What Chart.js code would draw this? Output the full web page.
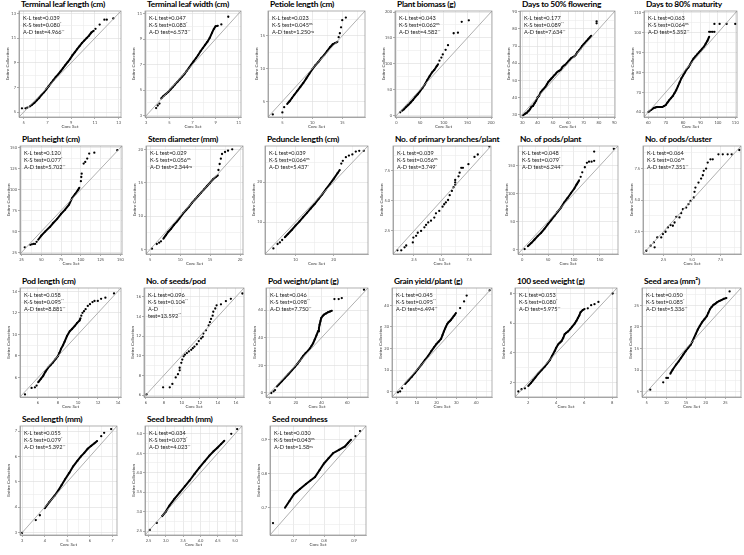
<!DOCTYPE html>
<html>
<head>
<meta charset="utf-8">
<script src="https://cdn.jsdelivr.net/npm/chart.js@4.4.1/dist/chart.umd.min.js"></script>
<style>
  body { margin:0; background:#fff; width:744px; height:555px; overflow:hidden; position:relative; font-family:Lato, "Open Sans", sans-serif; }
  .ttl { position:absolute; font-weight:700; font-size:8.4px; line-height:9px; letter-spacing:-0.25px; white-space:nowrap; color:#000; }
  .stats { position:absolute; font-size:5.6px; line-height:6.7px; color:#1a1a1a; white-space:nowrap; z-index:2; }
  .stats sup { font-size:3.7px; vertical-align:0; position:relative; top:-1.7px; }
  canvas { position:absolute; }
</style>
</head>
<body>
<script>
// panel titles and test statistics
const titles = ["Terminal leaf length (cm)","Terminal leaf width (cm)","Petiole length (cm)","Plant biomass (g)","Days to 50% flowering","Days to 80% maturity",
  "Plant height (cm)","Stem diameter (mm)","Peduncle length (cm)","No. of primary branches/plant","No. of pods/plant","No. of pods/cluster",
  "Pod length (cm)","No. of seeds/pod","Pod weight/plant (g)","Grain yield/plant (g)","100 seed weight (g)","Seed area (mm²)",
  "Seed length (mm)","Seed breadth (mm)","Seed roundness"];
const klTest = ["0.039","0.047","0.023","0.043","0.177","0.063","0.120","0.029","0.039","0.039","0.048","0.064","0.058","0.096","0.046","0.045","0.053","0.050","0.055","0.034","0.030"];
const ksTest = ["0.080","0.083","0.045","0.062","0.089","0.064","0.077","0.056","0.064","0.056","0.079","0.06","0.095","0.104","0.098","0.095","0.080","0.085","0.079","0.073","0.043"];
const ksSig  = ["*","*","ns","ns","**","ns","*","ns","ns","ns","*","ns","**","**","**","**","*","*","*","*","ns"];
const adTest = ["4.966","6.573","1.250","4.582","7.634","5.352","5.702","2.344","5.437","3.749","6.244","7.351","8.881","13.592","7.750","6.494","5.975","5.336","5.392","4.023","1.58"];
const adSig  = ["**","**","ns","**","**","**","**","ns","*","*","**","**","**","**","**","**","**","**","**","**","ns"];

// axis limits (same for both axes) and labelled ticks
const axisLow  = [4.6, 2.9, 2.6, -3, 28.5, 57.5, 23, 4.3, 2, 0.6, -8, 0.7, 4.2, 5.8, -3, -2.5, 1.05, 3.8, 2.9, 2.4, 0.62];
const axisHigh = [13.2, 11.2, 18.8, 202, 90.5, 111, 152, 20.5, 29, 9.5, 185, 9.3, 14.3, 16.9, 76, 48, 8.35, 29, 7.2, 5.2, 0.94];
const tickSets = [
  [5,7,9,11,13],[3,5,7,9,11],[5,10,15],[0,50,100,150,200],[30,40,50,60,70,80,90],[60,70,80,90,100,110],
  [25,50,75,100,125,150],[5,10,15,20],[10,20],[2.5,5,7.5],[0,50,100,150],[2.5,5,7.5],
  [6,8,10,12,14],[6,8,10,12,14,16],[0,20,40,60],[0,10,20,30,40],[2,4,6,8],[5,10,15,20,25],
  [3,4,5,6,7],[2.5,3,3.5,4,4.5,5],[0.7,0.8,0.9]
];

// quantile pairs [core set, entire collection]: dense runs and single points
const tllLine = [[5.5,5.45],[5.7,5.6],[5.9,5.75],[6.1,5.95],[6.3,6.15],[6.5,6.4],[6.7,6.6],[6.9,6.85],[7.1,7.1],[7.3,7.35],[7.5,7.6],[7.7,7.85],[7.9,8.05],[8.1,8.3],[8.3,8.55],[8.5,8.8],[8.7,9.05],[8.9,9.3],[9.1,9.6],[9.3,9.85],[9.5,10.1],[9.7,10.35],[9.9,10.6],[10.1,10.8],[10.3,11.0],[10.5,11.2],[10.7,11.45],[10.9,11.6]];
const tllDots = [[4.85,5.3],[5.15,5.3],[5.3,5.35],[11.05,11.75],[11.4,12.1],[11.8,12.5],[12.0,12.5],[12.55,12.6]];
const tlwLine = [[4.3,4.35],[4.5,4.55],[4.7,4.7],[4.9,4.85],[5.1,5.05],[5.3,5.25],[5.5,5.45],[5.7,5.65],[5.9,5.85],[6.1,6.05],[6.3,6.25],[6.5,6.5],[6.7,6.75],[6.9,7.0],[7.1,7.25],[7.3,7.5],[7.5,7.75],[7.7,8.05],[7.9,8.3],[8.1,8.55],[8.3,8.8],[8.5,9.1],[8.7,9.5],[8.85,9.8],[9.0,10.0],[9.2,10.05]];
const tlwDots = [[3.86,3.6],[4.0,3.8],[4.15,3.95],[9.5,10.15],[10.1,10.75]];
const petLine = [[5.8,4.6],[6.2,5.0],[6.6,5.5],[7.0,6.0],[7.5,6.6],[8.0,7.2],[8.5,7.8],[9.0,8.5],[9.5,9.2],[10.0,9.9],[10.5,10.5],[11.0,11.0],[11.5,11.6],[12.0,12.1],[12.5,12.7],[13.0,13.3],[13.4,13.7],[13.8,13.9],[14.2,14.1]];
const petDots = [[3.4,3.0],[5.0,3.3],[5.3,4.1],[14.4,14.8],[14.6,15.4],[14.8,16.3],[15.0,17.4],[15.6,17.8]];
const pbmLine = [[12,9],[16,12],[20,16],[25,20],[30,25],[35,30],[40,36],[45,41],[50,47],[55,53],[60,60],[65,68],[70,76],[75,83],[80,88],[85,95],[88,99]];
const pbmDots = [[8,6],[91,106],[95,112],[98,118],[104,127],[109,136],[121,159],[130,160],[138,181],[153,184]];
const d50Line = [[30.5,29.5],[32,30.5],[33,31],[34,32],[35,33],[36,34.5],[37,35],[38,36.5],[39,38],[40,40],[41,41],[42,43],[43,44],[44,45],[45,46],[46,47.5],[47,49],[48,50],[49,51],[50,52],[51,53],[52,54],[53,55],[54,55.5],[55,56],[56,57.5],[57,58.5],[58,59],[59,60],[60,61],[61,62],[62,63],[63,63.5],[64,64],[65,65],[66,66.5],[67,67.5],[68,68.5],[69,70],[70,71],[71,72],[72,73],[73,74],[74,75],[75,76]];
const d50Dots = [[78.5,83.3],[78.5,84.4]];
const d80Line = [[60,60],[61.5,61],[63,62],[64,62.3],[65,62.5],[66.5,62.5],[68,62.5],[69,63],[70,63.5],[71,64.8],[72,66],[73,67],[74,68],[75,69.5],[76,71],[77,73],[78,75],[79,77],[80,78.5],[81,80],[82,81.5],[83,82.5],[84,84],[85,85.5],[86,87],[87,88],[88,89],[89,90],[90,91],[91,92],[92,93],[93,94.5],[94,96],[95,98]];
const d80Dots = [[95,100.5],[96,100.5],[97,100.5],[98,100.5],[98,104.5],[101,104.5],[105,104.5],[110,104.5]];
const phtLine = [[46,40],[50,45],[55,50],[61,55.5],[65,60],[70,65],[75,71],[80,76],[85,82],[89,90],[93,95],[96,99],[98,102]];
const phtDots = [[29,31],[36,34],[38,34.5],[40,35],[42,35],[44,37.5],[100,110],[100.5,115],[101,119],[103.5,131],[105.5,133],[108,137],[110.5,143],[117,144],[146,147]];
const stdLine = [[7.2,6.6],[7.6,7.1],[8,7.6],[8.5,8.1],[9,8.7],[9.5,9.2],[10,9.8],[10.5,10.4],[11,10.9],[11.5,11.4],[12,12],[12.5,12.5],[13,13],[13.5,13.5],[14,14],[14.5,14.5],[15,15],[15.5,15.5],[16,15.9],[16.3,16.1]];
const stdDots = [[5.3,5.1],[6.1,5.8],[6.5,6.0],[6.8,6.2],[16.4,16.9],[16.6,17.8],[16.8,18.6],[17.0,19.3],[17.5,19.6],[18.0,19.8],[18.7,20.0]];
const pedLine = [[7.2,6.2],[8,7],[9,8],[10,9.1],[11,10.1],[12,11.2],[13,12.3],[14,13.4],[15,14.5],[16,15.7],[17,16.9],[18,18.2],[19,19.5],[20,20.8],[21,22.2],[21.6,23]];
const pedDots = [[4.2,3.4],[5.3,4.5],[5.9,4.9],[6.5,5.5],[22,24.6],[22.4,25.3],[23.2,26.2],[24,26.6],[24.9,26.9],[25.8,27.6],[26.7,27.8],[27.9,27.8]];
const brnLine = [];
const brnDots = [[1.0,0.9],[1.35,0.9],[1.65,1.15],[1.8,1.3],[2.4,1.55],[2.45,1.95],[2.7,2.1],[2.85,2.35],[3.15,2.5],[3.45,2.8],[3.6,3.0],[3.8,3.2],[4.05,3.35],[4.35,3.6],[4.5,3.95],[4.8,4.15],[5.1,4.5],[5.25,4.7],[5.4,4.85],[5.6,5.05],[5.75,5.45],[5.95,5.8],[6.1,6.1],[6.25,6.3],[6.25,6.5],[6.25,6.7],[6.55,7.0],[6.65,7.3],[6.8,7.7],[6.95,7.7],[7.45,8.0],[8.0,8.6],[8.3,8.8],[9.35,9.45]];
const ppLine = [[11,6],[18,12],[24,18],[30,24],[36.7,30],[43,37],[49.5,45],[56,52.5],[62.3,60],[68,67],[75,75],[81,84],[88,92.6],[94,100.5],[100.7,109],[105,116],[110,123.6]];
const ppDots = [[4.8,0.8],[113,130],[116,138],[121,147],[125,155],[129,157],[134,157],[139,158.5],[139,175],[177,180]];
const pcLine = [];
const pcDots = [[0.99,0.96],[1.37,1.36],[1.66,1.63],[1.72,1.23],[1.95,2.02],[2.3,2.02],[2.45,2.29],[2.68,2.47],[2.89,2.82],[3.12,3.0],[3.32,2.95],[3.47,3.21],[3.62,3.66],[3.9,3.61],[4.05,3.95],[4.2,4.27],[4.49,4.4],[4.69,4.67],[4.87,4.93],[5.16,5.2],[5.22,5.65],[5.3,5.99],[5.57,6.39],[5.8,6.71],[5.95,6.97],[6.03,7.32],[6.24,7.5],[6.38,7.98],[6.62,8.24],[6.82,8.24],[7.32,8.64],[7.7,8.64],[8.13,8.64],[8.48,8.64],[9.15,8.98]];
const plnLine = [[6.02,5.56],[6.3,5.9],[6.52,6.16],[6.75,6.55],[7.0,6.9],[7.25,7.15],[7.5,7.4],[7.75,7.7],[7.98,7.97],[8.15,8.3],[8.3,8.66],[8.5,9.0],[8.66,9.33],[8.9,9.85],[9.17,10.29],[9.4,10.5],[9.66,10.77],[9.9,11.05],[10.16,11.3],[10.25,11.5]];
const plnDots = [[4.7,4.44],[5.36,5.04],[5.69,5.1],[5.86,5.26],[10.33,11.74],[10.45,12.0],[10.6,12.15],[10.76,12.34],[10.98,12.64],[11.2,12.8],[11.45,13.0],[11.65,13.1],[11.98,13.1],[12.31,13.3],[12.74,13.4],[13.6,13.8]];
const spdLine = [];
const spdDots = [[6.09,6.07],[7.92,6.79],[8.66,6.79],[8.95,7.13],[9.32,7.79],[9.57,8.12],[9.76,8.52],[9.76,8.78],[9.94,9.28],[10.05,9.61],[10.2,9.94],[10.34,10.11],[10.56,10.27],[10.78,10.44],[11.04,10.6],[11.22,10.77],[11.4,10.94],[11.66,11.17],[11.88,11.5],[12.14,11.76],[12.32,11.93],[12.39,12.26],[12.68,12.59],[12.98,13.09],[13.12,13.42],[13.24,13.75],[13.42,14.08],[13.49,14.48],[13.71,14.81],[13.86,15.14],[14.34,15.24],[14.89,15.57],[15.44,15.8],[16.72,16.34]];
const pwtLine = [[5.4,4.6],[7,6.2],[9.2,8.4],[11.7,10.9],[14.3,13.5],[17,16.3],[19.4,18.9],[21.3,21],[23.2,23.3],[24.5,25],[25.8,26.8],[27.7,28.8],[29.6,30.6],[31,32.2],[32.2,33.9],[33.5,36],[34.7,38.6],[36,41.5],[37.3,44.6],[38,47],[38.5,49.4],[39.2,52],[39.8,54.3],[41,55.8],[41.9,56.7],[43.5,57.6],[44.9,58.4],[46.5,59],[48,59.6]];
const pwtDots = [[1.1,-0.1],[2.9,1.1],[4,2],[50,68],[53.3,68],[55.7,68.7],[72.9,74.8]];
const gyLine = [[4.1,3.5],[5.8,5.2],[7.4,6.8],[9,8.6],[10.7,10.5],[12.4,12.5],[14.1,14.6],[15.8,16.6],[17.4,18.8],[18.7,20.5],[19.9,22],[21.1,23.2],[22.3,24.5],[23,26.2],[23.7,27.9],[24.3,29.2],[24.8,30.2],[25.4,31.3],[26,32.1],[26.6,32.6],[27.3,33.3],[28,34.1],[28.6,34.9],[29.2,35.6],[29.8,36.4]];
const gyDots = [[0.5,-0.3],[1.6,0.1],[2.6,1.5],[31.9,38.7],[33.9,41.8],[35.2,44.5],[46.8,46.9]];
const swLine = [[2.0,1.79],[2.2,2.0],[2.35,2.18],[2.5,2.35],[2.71,2.61],[2.95,2.85],[3.18,3.09],[3.36,3.3],[3.54,3.52],[3.7,3.8],[3.89,4.13],[4.0,4.35],[4.13,4.56],[4.25,4.68],[4.37,4.78],[4.5,5.0],[4.6,5.25],[4.72,5.35],[4.84,5.43],[5.0,5.6],[5.13,5.75],[5.32,5.97],[5.45,6.15],[5.55,6.34],[5.65,6.5],[5.74,6.73],[5.9,6.88],[6.03,6.94]];
const swDots = [[1.29,1.42],[1.52,1.57],[1.76,1.63],[6.26,6.99],[6.5,7.2],[6.74,7.27],[7.02,7.42],[8.04,7.98]];
const saLine = [[11,9.2],[11.6,10.1],[12.5,11.3],[13.1,12.0],[13.7,12.8],[14.3,13.6],[14.9,14.4],[15.5,15.1],[16.2,15.9],[16.6,16.6],[17,17.4],[17.5,18.4],[18,19.4],[18.5,20.2],[19.1,21.1],[19.7,21.8],[20.3,22.5],[20.7,23.3],[21.1,24.1],[21.5,24.6],[22,25.1],[22.5,25.4],[22.9,25.7],[23.5,26],[24,26.2],[24.6,26.5],[25.3,26.7]];
const saDots = [[5.9,5.5],[9.2,7.2],[10,8.2],[10.4,8.2],[26.1,28.2]];
const slLine = [[4.0,3.96],[4.2,4.2],[4.44,4.46],[4.6,4.66],[4.74,4.86],[4.9,5.1],[5.09,5.36],[5.25,5.6],[5.45,5.83],[5.6,6.0],[5.75,6.14],[5.9,6.3],[6.06,6.42],[6.2,6.52],[6.32,6.61]];
const slDots = [[2.99,2.98],[3.6,3.49],[3.78,3.68],[6.5,6.8],[6.63,6.93],[6.94,7.08]];
const sbLine = [[2.89,2.88],[3.0,3.0],[3.11,3.16],[3.25,3.33],[3.4,3.49],[3.55,3.65],[3.69,3.8],[3.83,3.97],[3.97,4.13],[4.12,4.29],[4.26,4.44],[4.38,4.55],[4.49,4.64],[4.6,4.74],[4.69,4.82]];
const sbDots = [[2.54,2.53],[2.74,2.71],[4.89,5.0],[5.06,5.12]];
const srLine = [[0.67,0.70],[0.685,0.72],[0.70,0.74],[0.72,0.755],[0.74,0.77],[0.755,0.78],[0.77,0.79],[0.785,0.81],[0.80,0.83],[0.815,0.845],[0.83,0.86],[0.85,0.87],[0.87,0.88],[0.88,0.89],[0.89,0.90]];
const srDots = [[0.63,0.655],[0.905,0.91],[0.92,0.925]];

const lines = [tllLine,tlwLine,petLine,pbmLine,d50Line,d80Line,phtLine,stdLine,pedLine,brnLine,ppLine,pcLine,plnLine,spdLine,pwtLine,gyLine,swLine,saLine,slLine,sbLine,srLine];
const dots  = [tllDots,tlwDots,petDots,pbmDots,d50Dots,d80Dots,phtDots,stdDots,pedDots,brnDots,ppDots,pcDots,plnDots,spdDots,pwtDots,gyDots,swDots,saDots,slDots,sbDots,srDots];

// plot rectangles on the page: left, top, right, bottom
const rects = [
  [19,10,122,117],[145,10,242,117],[268,10,366,117],[395,10,493,117],[520,10,616,117],[644,10,738,117],
  [20,145,123,254],[146,145,244,254],[265,145,369,254],[393,145,492,254],[518,145,619,254],[643,145,742,254],
  [20,287,122,397],[144,287,245,397],[266,287,369,397],[392,287,493,397],[515,287,618,397],[642,287,742,397],
  [20,425,118,535],[145,425,243,535],[270,425,367,535]
];

const Y_W = 14, X_H = 12, PAD_T = 3, PAD_R = 3;

const frame = {
  id: "frame",
  afterDraw(c){
    const a = c.chartArea, g = c.ctx;
    g.save();
    g.strokeStyle = "#8f8f8f";
    g.lineWidth = 0.7;
    g.strokeRect(a.left, a.top, a.right - a.left, a.bottom - a.top);
    g.restore();
  }
};

function gridValues(lo, hi, majors){
  const out = [];
  const step = majors.length > 1 ? majors[1] - majors[0] : (hi - lo);
  const first = majors[0] - step / 2, last = majors[majors.length - 1] + step / 2;
  if (first >= lo) out.push(first);
  majors.forEach((m, i) => {
    out.push(m);
    if (i < majors.length - 1) out.push((m + majors[i + 1]) / 2);
  });
  if (last <= hi) out.push(last);
  return out;
}

function axis(lo, hi, majors, isX){
  const dec = Math.max(...majors.map(v => (String(v).split(".")[1] || "").length));
  const isMajor = v => majors.some(m => Math.abs(m - v) < 1e-9);
  return {
    type: "linear", min: lo, max: hi,
    afterBuildTicks: s => { s.ticks = gridValues(lo, hi, majors).map(v => ({ value: v })); },
    afterFit: s => { if (isX) s.height = X_H; else s.width = Y_W; },
    ticks: {
      font: { size: 4, family: "Lato" }, color: "#4d4d4d", padding: 1,
      autoSkip: false, maxRotation: 0,
      callback: v => isMajor(v) ? v.toFixed(dec) : ""
    },
    grid: {
      color: ctx => isMajor(ctx.tick.value) ? "#dcdcdc" : "#ebebeb",
      lineWidth: 0.6, tickLength: 2,
      tickColor: ctx => isMajor(ctx.tick.value) ? "#777" : "rgba(0,0,0,0)"
    },
    border: { color: "#8f8f8f", width: 0.7 },
    title: { display: true, text: isX ? "Core Set" : "Entire Collection", font: { size: 4.5, family: "Lato" }, color: "#333", padding: 0 }
  };
}

function statsHtml(i){
  const ad = i === 13 ? "A-D<br>test=" : "A-D test=";
  return `K-L test=${klTest[i]}<br>` +
    `K-S test=${ksTest[i]}<sup>${ksSig[i]}</sup><br>` +
    `${ad}${adTest[i]}<sup>${adSig[i]}</sup>`;
}

function buildPanel(i){
  const [l, t, r, b] = rects[i];
  const lo = axisLow[i], hi = axisHigh[i];

  const ttl = document.createElement("div");
  ttl.className = "ttl";
  ttl.style.left = (l + 2) + "px";
  ttl.style.top = (t - 10) + "px";
  ttl.textContent = titles[i];
  document.body.appendChild(ttl);

  const st = document.createElement("div");
  st.className = "stats";
  st.style.left = (l + 4) + "px";
  st.style.top = (t + 5) + "px";
  st.innerHTML = statsHtml(i);
  document.body.appendChild(st);

  const cv = document.createElement("canvas");
  const w = (r - l) + Y_W + PAD_R, h = (b - t) + PAD_T + X_H;
  cv.width = w; cv.height = h;
  cv.style.left = (l - Y_W) + "px";
  cv.style.top = (t - PAD_T) + "px";
  cv.style.width = w + "px"; cv.style.height = h + "px";
  document.body.appendChild(cv);

  const toXY = p => ({ x: p[0], y: p[1] });
  new Chart(cv, {
    type: "scatter",
    data: { datasets: [
      { data: [{ x: lo, y: lo }, { x: hi, y: hi }], showLine: true, borderColor: "#9c9c9c", borderWidth: 0.8, pointRadius: 0 },
      { data: lines[i].map(toXY), showLine: true, borderColor: "#000", borderWidth: 2, pointRadius: 1, pointBackgroundColor: "#000", pointBorderWidth: 0 },
      { data: dots[i].map(toXY), showLine: false, pointRadius: 1.15, pointBackgroundColor: "#000", pointBorderWidth: 0 }
    ]},
    options: {
      responsive: false, animation: false,
      layout: { padding: { top: PAD_T, right: PAD_R, left: 0, bottom: 0 } },
      plugins: { legend: { display: false }, tooltip: { enabled: false } },
      scales: { x: axis(lo, hi, tickSets[i], true), y: axis(lo, hi, tickSets[i], false) }
    },
    plugins: [frame]
  });
}

titles.forEach((_, i) => buildPanel(i));
</script>
</body>
</html>
